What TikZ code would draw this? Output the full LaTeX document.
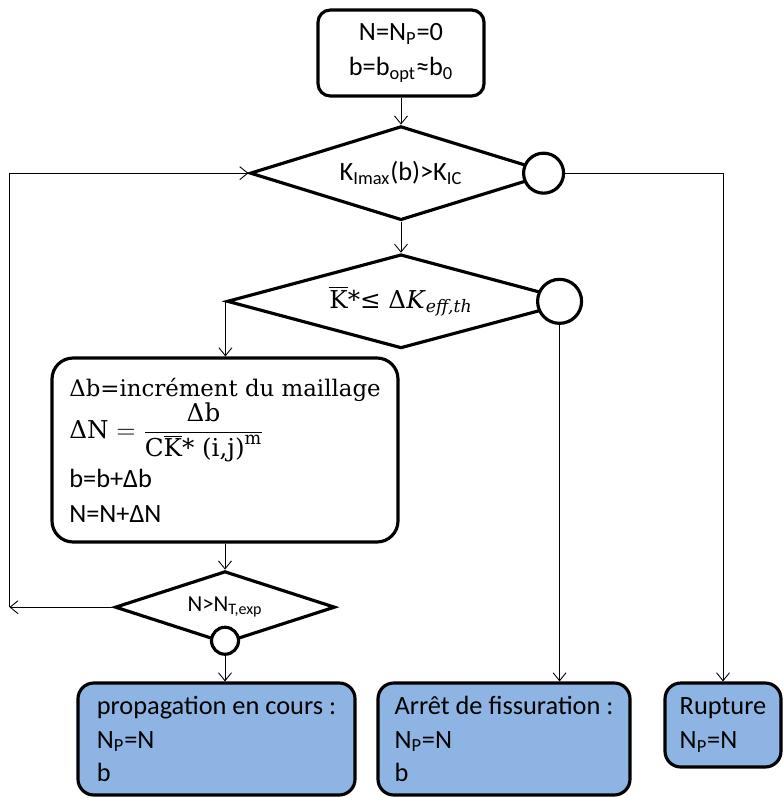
\documentclass[tikz,border=0pt]{standalone}
\usepackage{fontspec}
\setmainfont{Carlito}
\newfontfamily\rmserif{DejaVu Serif}
\usetikzlibrary{arrows.meta,positioning,shapes.geometric}
\definecolor{resblue}{RGB}{141,180,226}

\begin{document}
\begin{tikzpicture}[
  font=\fontsize{15}{19}\selectfont,
  box/.style={draw, line width=1.8pt, rounded corners=7pt, align=center, inner sep=0pt},
  decision/.style={draw, line width=1.8pt, diamond, inner sep=0pt},
  port/.style={draw, line width=1.8pt, circle, fill=white, inner sep=0pt},
  result/.style={box, rounded corners=9pt, fill=resblue, align=left, minimum height=2.24cm},
  arr/.style={-{Straight Barb[length=1.6mm,width=2.6mm]}, line width=0.5pt}
]
  \useasboundingbox (0,0) rectangle (15.64,-15.96);

  \node[box, minimum width=3.32cm, minimum height=1.72cm] (init) at (8.02,-1.06)
    {N=N\textsubscript{P}=0\\[1pt]b=b\textsubscript{opt}≈b\textsubscript{0}};
  \node[decision, aspect=3.2, minimum width=6.04cm, minimum height=1.88cm, below=0.54cm of init] (kcrit)
    {K\textsubscript{Imax}(b)>K\textsubscript{IC}};
  \node[decision, aspect=3.7, minimum width=6.96cm, minimum height=1.88cm, below=0.62cm of kcrit,
    font=\rmserif\fontsize{14}{17}\selectfont] (kthr)
    {$\overline{\mbox{K}}$*≤ Δ\textit{K}\textsubscript{\itshape eff,th}};
  \node[box, rounded corners=12pt, align=left, minimum width=6.92cm, minimum height=3.68cm] (incr) at (4.50,-9.00)
    {{\rmserif\fontsize{13}{16}\selectfont Δb=incrément du maillage}\\
     {\rmserif\fontsize{14}{17}\selectfont ΔN $=\displaystyle\frac{\mbox{Δb}}{\mbox{C}\overline{\mbox{K}}\mbox{*\ (i,j)}^{\mbox{\fontsize{10}{12}\selectfont m}}}$}\\[3pt]
     b=b+Δb\\[1pt]
     N=N+ΔN};
  \node[decision, aspect=3.06, minimum width=4.40cm, minimum height=1.44cm, below=0.52cm of incr,
    font=\fontsize{13}{15}\selectfont] (ncheck) {\raisebox{3pt}{N>N\textsubscript{T,exp}}};

  % sorties des tests
  \node[port, minimum size=0.8cm] (ocrit) at ([xshift=-0.2cm]kcrit.east) {};
  \node[port, minimum size=0.88cm] (othr) at ([xshift=-0.34cm]kthr.east) {};
  \node[port, minimum size=0.54cm] (ocheck) at ([yshift=0.08cm]ncheck.south) {};

  \node[result, minimum width=5.54cm] (prop) at (4.33,-14.78)
    {propagation en cours :\\N\textsubscript{P}=N\\b};
  \node[result, minimum width=5.04cm] (arret) at (10.08,-14.78)
    {Arrêt de fissuration :\\N\textsubscript{P}=N\\b};
  \node[result, minimum width=2.32cm, minimum height=1.68cm] (rupt) at (14.46,-14.50)
    {Rupture\\N\textsubscript{P}=N};

  \coordinate (loop) at ([xshift=-2.08cm]ncheck.west);

  \draw[arr] (init) -- (kcrit);
  \draw[arr] (kcrit) -- (kthr);
  \draw[arr] (kthr.west) -- (kthr.west |- incr.north);
  \draw[arr] (incr) -- (ncheck);
  \draw[arr] (ocheck) -- (ocheck |- prop.north);
  \draw[arr] (othr) -- (othr |- arret.north);
  \draw[arr] (ocrit) -| (rupt);
  \draw[arr] (ncheck.west) -- (loop);
  \draw[arr] (loop) |- (kcrit.west);
\end{tikzpicture}
\end{document}
